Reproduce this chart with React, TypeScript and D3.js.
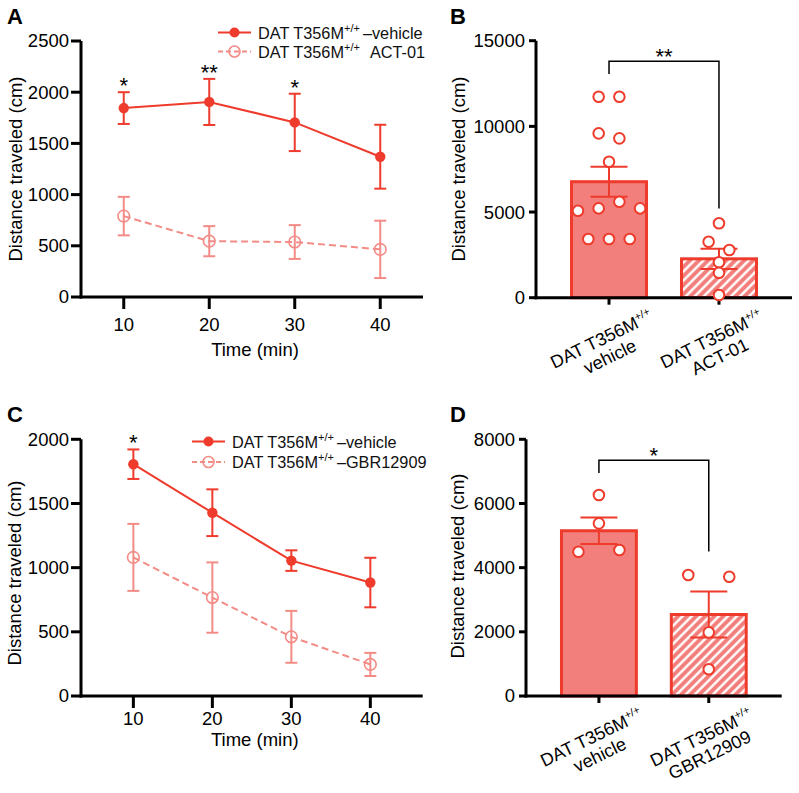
import React from 'react';
import * as d3 from 'd3';

// ---------- data ----------
const timeMin = [10, 20, 30, 40];

const aVehicleMean = [1845, 1905, 1705, 1370];
const aVehicleSem = [155, 225, 280, 312];
const aAct01Mean = [790, 545, 537, 465];
const aAct01Sem = [188, 147, 165, 280];
const aStars = ['*', '**', '*', ''];
const aYTicks = [0, 500, 1000, 1500, 2000, 2500];

const cVehicleMean = [1806, 1428, 1055, 884];
const cVehicleSem = [115, 182, 80, 193];
const cGbrMean = [1080, 767, 461, 246];
const cGbrSem = [261, 274, 202, 90];
const cStars = ['*', '', '', ''];
const cYTicks = [0, 500, 1000, 1500, 2000];

const bGroups = ['vehicle', 'ACT-01'];
const bMeans = [6770, 2270];
const bSems = [880, 590];
const bVehiclePoints = [11727, 11727, 9592, 9300, 7935, 5076, 5216, 5601, 5216, 3425, 3425, 3425];
const bAct01Points = [4341, 3267, 2783, 2065, 1459, 158];
const bYTicks = [0, 5000, 10000, 15000];
const bStar = '**';
const bBracket = [13800, 13050, 5200]; // top, left leg end, right leg end

const dGroups = ['vehicle', 'GBR12909'];
const dMeans = [5150, 2540];
const dSems = [415, 715];
const dVehiclePoints = [6262, 5380, 4496, 4548];
const dGbrPoints = [3769, 3716, 1984, 832];
const dYTicks = [0, 2000, 4000, 6000, 8000];
const dStar = '*';
const dBracket = [7350, 6950, 4500];

// ---------- style ----------
const FONT = '"Liberation Sans", Arial, Helvetica, sans-serif';
const RED = '#EE3B2C';
const LIGHT = '#F38C86';
const BARFILL = '#F27F7B';
const AX = 3;

function LegendRow({ x, y, color, dashed, filled, rest, restDx }) {
  return (
    <g>
      <line x1={x} x2={x + 33} y1={y} y2={y} stroke={color} strokeWidth={2}
        strokeDasharray={dashed ? '5,3' : undefined} />
      <circle cx={x + 16.5} cy={y} r={filled ? 5 : 5.5} fill={filled ? color : 'none'}
        stroke={color} strokeWidth={filled ? 0 : 1.6} />
      <text x={x + 40} y={y + 6} fontSize={16.3} fontFamily={FONT} fill="#111">
        DAT T356M
        <tspan fontSize={11} dy={-7}>+/+</tspan>
        <tspan dy={7} dx={restDx}>{rest}</tspan>
      </text>
    </g>
  );
}

function LinePanel({ letter, letterX, letterY, xDomain, xRange, yDomain, yRange, yTicks,
  series, stars, legendX, legendY, tickLabelY, titleY, yLabelX, yLabelY }) {
  const x = d3.scaleLinear().domain(xDomain).range(xRange);
  const y = d3.scaleLinear().domain(yDomain).range(yRange);
  const x0 = xRange[0];
  const y0 = y(0);
  const line = d3.line<number>().x((d, i) => x(timeMin[i])).y((d) => y(d));
  return (
    <g fontFamily={FONT}>
      <text x={letterX} y={letterY} fontSize={22} fontWeight="bold">{letter}</text>
      {/* axes */}
      <line x1={x0} x2={x0} y1={y(yDomain[1])} y2={y0 + AX / 2} stroke="#000" strokeWidth={AX} />
      <line x1={x0 - AX / 2} x2={xRange[1]} y1={y0} y2={y0} stroke="#000" strokeWidth={AX} />
      {yTicks.map((t) => (
        <g key={t}>
          <line x1={x0 - 10} x2={x0} y1={y(t)} y2={y(t)} stroke="#000" strokeWidth={AX} />
          <text x={x0 - 12} y={y(t)} dy="0.35em" textAnchor="end" fontSize={18.5}>{t}</text>
        </g>
      ))}
      {timeMin.map((t) => (
        <g key={t}>
          <line x1={x(t)} x2={x(t)} y1={y0} y2={y0 + 12} stroke="#000" strokeWidth={AX} />
          <text x={x(t)} y={tickLabelY} textAnchor="middle" fontSize={18.5}>{t}</text>
        </g>
      ))}
      <text x={(xRange[0] + xRange[1]) / 2 + 3} y={titleY} textAnchor="middle" fontSize={18.5}>Time (min)</text>
      <text transform={`translate(${yLabelX},${yLabelY}) rotate(-90)`} textAnchor="middle" fontSize={18.5}>
        Distance traveled (cm)
      </text>
      {/* series */}
      {series.map((s, si) => (
        <g key={si}>
          <path d={line(s.mean) || ''} fill="none" stroke={s.color} strokeWidth={2}
            strokeDasharray={s.dashed ? '7,4' : undefined} />
          {s.mean.map((m, i) => {
            const cx = x(timeMin[i]);
            const top = y(m + s.sem[i]);
            const bot = y(m - s.sem[i]);
            return (
              <g key={i} stroke={s.color} strokeWidth={2}>
                <line x1={cx} x2={cx} y1={top} y2={bot} />
                <line x1={cx - 6} x2={cx + 6} y1={top} y2={top} />
                <line x1={cx - 6} x2={cx + 6} y1={bot} y2={bot} />
              </g>
            );
          })}
          {s.mean.map((m, i) => (
            <circle key={'c' + i} cx={x(timeMin[i])} cy={y(m)} r={s.filled ? 5.2 : 5.8}
              fill={s.filled ? s.color : 'none'} stroke={s.color} strokeWidth={s.filled ? 0 : 1.6} />
          ))}
        </g>
      ))}
      {stars.map((st, i) => st ? (
        <text key={'s' + i} x={x(timeMin[i])} y={y(series[0].mean[i] + series[0].sem[i]) + 1}
          textAnchor="middle" fontSize={22}>{st}</text>
      ) : null)}
      {series.map((s, si) => (
        <LegendRow key={'l' + si} x={legendX} y={legendY[si]} color={s.color} dashed={s.dashed}
          filled={s.filled} rest={s.rest} restDx={s.restDx} />
      ))}
    </g>
  );
}

function dodge(values: number[], y: (v: number) => number, spacing: number, threshold: number) {
  const order = values.map((_, i) => i).sort((a, b) => values[b] - values[a] || a - b);
  const rows: { y0: number; items: number[] }[] = [];
  order.forEach((i) => {
    const py = y(values[i]);
    const row = rows[rows.length - 1];
    if (row && py - row.y0 <= threshold) row.items.push(i);
    else rows.push({ y0: py, items: [i] });
  });
  const off = new Array(values.length).fill(0);
  rows.forEach((r) => {
    const items = r.items.slice().sort((a, b) => a - b);
    const k = items.length;
    items.forEach((i, j) => { off[i] = (j - (k - 1) / 2) * spacing; });
  });
  return off;
}

function BarPanel({ letter, letterX, letterY, groups, means, sems, points, yDomain, yRange, yTicks,
  xRange, spacing, star, bracket, yLabelX, yLabelY, patternId }) {
  const y = d3.scaleLinear().domain(yDomain).range(yRange);
  const x = d3.scaleBand<string>().domain(groups).range(xRange).paddingInner(0.318).paddingOuter(0.323);
  const bw = x.bandwidth();
  const x0 = xRange[0];
  const y0 = y(0);
  const cx = (g: string) => (x(g) as number) + bw / 2;
  const c1 = cx(groups[0]);
  const c2 = cx(groups[1]);
  return (
    <g fontFamily={FONT}>
      <defs>
        <pattern id={patternId} patternUnits="userSpaceOnUse" width={6.4} height={6.4}
          patternTransform="rotate(45)">
          <rect width={6.4} height={6.4} fill={BARFILL} />
          <line x1={3.2} x2={3.2} y1={0} y2={6.4} stroke="#fff" strokeWidth={2.4} />
        </pattern>
      </defs>
      <text x={letterX} y={letterY} fontSize={22} fontWeight="bold">{letter}</text>
      {groups.map((g, i) => (
        <rect key={g} x={x(g)} y={y(means[i])} width={bw} height={y0 - y(means[i])}
          fill={i === 0 ? BARFILL : `url(#${patternId})`} stroke={RED} strokeWidth={3} />
      ))}
      {/* axes */}
      <line x1={x0} x2={x0} y1={y(yDomain[1])} y2={y0 + AX / 2} stroke="#000" strokeWidth={AX} />
      <line x1={x0 - AX / 2} x2={xRange[1]} y1={y0} y2={y0} stroke="#000" strokeWidth={AX} />
      {yTicks.map((t) => (
        <g key={t}>
          <line x1={x0 - 7} x2={x0} y1={y(t)} y2={y(t)} stroke="#000" strokeWidth={AX} />
          <text x={x0 - 11} y={y(t)} dy="0.35em" textAnchor="end" fontSize={18.5}>{t}</text>
        </g>
      ))}
      {groups.map((g) => (
        <g key={'t' + g}>
          <line x1={cx(g)} x2={cx(g)} y1={y0} y2={y0 + 7} stroke="#000" strokeWidth={AX} />
          <g transform={`translate(${cx(g)},${y0}) rotate(-26)`}>
            <text x={-25} y={40} textAnchor="middle" fontSize={18}>
              DAT T356M<tspan fontSize={11} dy={-7}>+/+</tspan>
            </text>
            <text x={-25} y={59.5} textAnchor="middle" fontSize={18}>{g}</text>
          </g>
        </g>
      ))}
      <text transform={`translate(${yLabelX},${yLabelY}) rotate(-90)`} textAnchor="middle" fontSize={18.5}>
        Distance traveled (cm)
      </text>
      {/* error bars */}
      {groups.map((g, i) => {
        const top = y(means[i] + sems[i]);
        const bot = y(means[i] - sems[i]);
        const c = cx(g);
        return (
          <g key={'e' + g} stroke={RED} strokeWidth={2}>
            <line x1={c} x2={c} y1={top} y2={bot} />
            <line x1={c - 18.5} x2={c + 18.5} y1={top} y2={top} />
            <line x1={c - 18.5} x2={c + 18.5} y1={bot} y2={bot} />
          </g>
        );
      })}
      {/* points */}
      {groups.map((g, gi) => {
        const off = dodge(points[gi], y, spacing, 10);
        return points[gi].map((v, i) => (
          <circle key={g + i} cx={cx(g) + off[i]} cy={y(v)} r={5.3} fill="#fff" stroke={RED} strokeWidth={2} />
        ));
      })}
      {/* significance bracket */}
      <path d={`M${c1},${y(bracket[1])}V${y(bracket[0])}H${c2}V${y(bracket[2])}`} fill="none"
        stroke="#000" strokeWidth={1.5} />
      <text x={(c1 + c2) / 2} y={y(bracket[0]) + 3} textAnchor="middle" fontSize={22}>{star}</text>
    </g>
  );
}

export default function App() {
  return (
    <svg width={799} height={793} viewBox="0 0 799 793"
      style={{ position: 'absolute', left: 0, top: 0, display: 'block', background: '#fff' }}>
      <rect width={799} height={793} fill="#fff" />
      <LinePanel letter="A" letterX={7} letterY={24}
        xDomain={[5, 45]} xRange={[81, 423]} yDomain={[0, 2500]} yRange={[297, 41]} yTicks={aYTicks}
        series={[
          { mean: aVehicleMean, sem: aVehicleSem, color: RED, dashed: false, filled: true, rest: '–vehicle', restDx: 3 },
          { mean: aAct01Mean, sem: aAct01Sem, color: LIGHT, dashed: true, filled: false, rest: 'ACT-01', restDx: 10 },
        ]}
        stars={aStars} legendX={218} legendY={[32.5, 51.5]} tickLabelY={331} titleY={356}
        yLabelX={21.5} yLabelY={169} />
      <LinePanel letter="C" letterX={7} letterY={422}
        xDomain={[3.37, 46.63]} xRange={[81, 422.7]} yDomain={[0, 2000]} yRange={[696, 439.3]} yTicks={cYTicks}
        series={[
          { mean: cVehicleMean, sem: cVehicleSem, color: RED, dashed: false, filled: true, rest: '–vehicle', restDx: 3 },
          { mean: cGbrMean, sem: cGbrSem, color: LIGHT, dashed: true, filled: false, rest: '–GBR12909', restDx: 3 },
        ]}
        stars={cStars} legendX={192} legendY={[441.5, 462]} tickLabelY={725} titleY={746}
        yLabelX={21} yLabelY={573} />
      <BarPanel letter="B" letterX={450} letterY={24} groups={bGroups} means={bMeans} sems={bSems}
        points={[bVehiclePoints, bAct01Points]} yDomain={[0, 15000]} yRange={[297.7, 40.7]} yTicks={bYTicks}
        xRange={[536, 792]} spacing={20.7} star={bStar} bracket={bBracket}
        yLabelX={465} yLabelY={169} patternId="hatchB" />
      <BarPanel letter="D" letterX={450} letterY={422} groups={dGroups} means={dMeans} sems={dSems}
        points={[dVehiclePoints, dGbrPoints]} yDomain={[0, 8000]} yRange={[696, 439.3]} yTicks={dYTicks}
        xRange={[526, 781.7]} spacing={41} star={dStar} bracket={dBracket}
        yLabelX={464} yLabelY={566} patternId="hatchD" />
    </svg>
  );
}
